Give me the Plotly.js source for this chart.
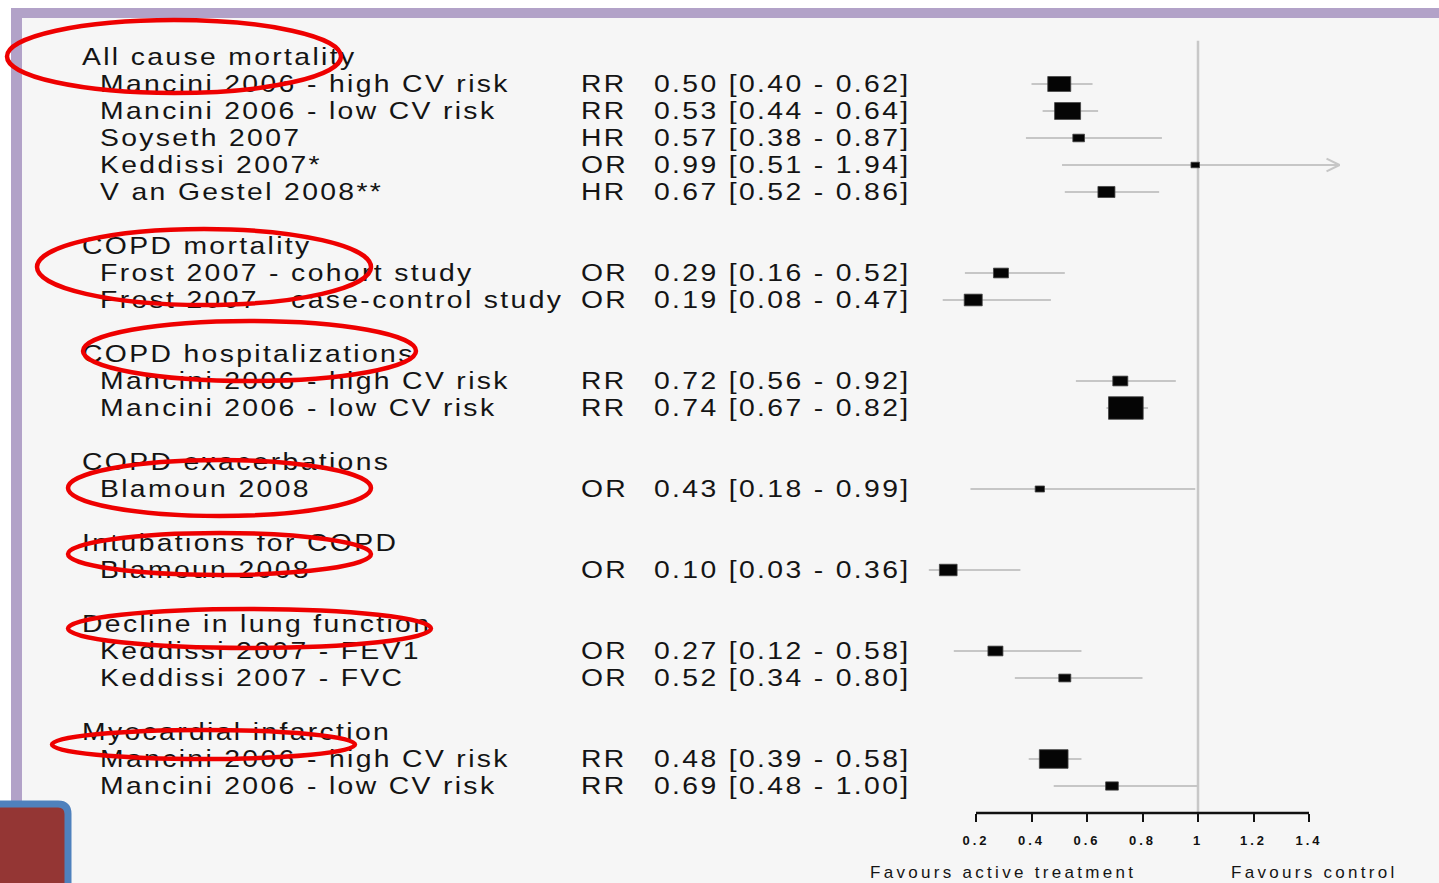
<!DOCTYPE html>
<html>
<head>
<meta charset="utf-8">
<script src="https://cdn.plot.ly/plotly-3.0.1.min.js"></script>
<style>
  html, body { margin: 0; padding: 0; background: #ffffff; }
  #chart { width: 1439px; height: 883px; }
  .textpoint text {
    letter-spacing: 2px;
    transform-box: fill-box;
    transform-origin: 0 50%;
    transform: scaleX(1.18);
  }
  .xtick text { letter-spacing: 3px; }
  .annotation-text { letter-spacing: 3.3px; }
</style>
</head>
<body>
<div id="chart"></div>
<script>
// ---------------- DATA ----------------
const groups = [
  "All cause mortality",
  "COPD mortality",
  "COPD hospitalizations",
  "COPD exacerbations",
  "Intubations for COPD",
  "Decline in lung function",
  "Myocardial infarction"
];
const studies = [
  "Mancini 2006 - high CV risk",
  "Mancini 2006 - low CV risk",
  "Soyseth 2007",
  "Keddissi 2007*",
  "V an Gestel 2008**",
  "Frost 2007 - cohort study",
  "Frost 2007 - case-control study",
  "Mancini 2006 - high CV risk",
  "Mancini 2006 - low CV risk",
  "Blamoun 2008",
  "Blamoun 2008",
  "Keddissi 2007 - FEV1",
  "Keddissi 2007 - FVC",
  "Mancini 2006 - high CV risk",
  "Mancini 2006 - low CV risk"
];
const studyGroup = [0,0,0,0,0, 1,1, 2,2, 3, 4, 5,5, 6,6];
const measure = ["RR","RR","HR","OR","HR", "OR","OR", "RR","RR", "OR", "OR", "OR","OR", "RR","RR"];
const estimate = [0.50,0.53,0.57,0.99,0.67, 0.29,0.19, 0.72,0.74, 0.43, 0.10, 0.27,0.52, 0.48,0.69];
const lower    = [0.40,0.44,0.38,0.51,0.52, 0.16,0.08, 0.56,0.67, 0.18, 0.03, 0.12,0.34, 0.39,0.48];
const upper    = [0.62,0.64,0.87,1.94,0.86, 0.52,0.47, 0.92,0.82, 0.99, 0.36, 0.58,0.80, 0.58,1.00];
// relative study weight (box size)
const weight   = [23,26,11.7,8.5,17, 15,18, 15,34.7, 9.3, 17.7, 15,12, 28.7,12.7];

const tickVals   = [0.2,0.4,0.6,0.8,1.0,1.2,1.4];
const tickLabels = ["0.2","0.4","0.6","0.8","1","1.2","1.4"];
const favourLabels = ["Favours active treatment", "Favours control"];
const clipHigh = 1.51;   // display limit; CIs beyond it get an arrow
const nullValue = 1;

// ---------------- GEOMETRY HELPERS ----------------
const W = 1439, H = 883;
const mT = 30, mB = 70;
const X0PX = 920.5, PXPERUNIT = 277.5;
const px2x = px => (px - X0PX) / PXPERUNIT;
const px2p = px => px / W;
const py2p = py => (H - mB - py) / (H - mT - mB);
const TEXT_DY = 0.07; // small baseline nudge (rows)

// build row layout: header, studies, blank
let row = 0;
const headerRows = [], studyRows = new Array(studies.length);
groups.forEach((g, gi) => {
  headerRows.push(row); row++;
  studyGroup.forEach((sg, si) => { if (sg === gi) { studyRows[si] = row; row++; } });
  row++;
});
const lastRow = row - 2; // index of last drawn row

// ---------------- TRACES ----------------
const ciX = [], ciY = [], arrX = [], arrY = [];
studies.forEach((s, i) => {
  const hi = Math.min(upper[i], clipHigh);
  ciX.push(lower[i], hi, null); ciY.push(studyRows[i], studyRows[i], null);
  if (upper[i] > clipHigh) {
    const dx = 13 / PXPERUNIT, dy = 0.24;
    arrX.push(clipHigh - dx, clipHigh, clipHigh - dx, null);
    arrY.push(studyRows[i] - dy, studyRows[i], studyRows[i] + dy, null);
  }
});

const textFont = {family: "Arial, 'Liberation Sans', sans-serif", size: 24, color: "#141414"};
const valueText = studies.map((s, i) =>
  estimate[i].toFixed(2) + " [" + lower[i].toFixed(2) + " - " + upper[i].toFixed(2) + "]");
const hy = headerRows.map(r => r + TEXT_DY);
const sy = studyRows.map(r => r + TEXT_DY);

const traces = [
  {x: ciX, y: ciY, mode: "lines", line: {color: "#c6c6c6", width: 2}, hoverinfo: "skip"},
  {x: arrX, y: arrY, mode: "lines", line: {color: "#c6c6c6", width: 2}, hoverinfo: "skip"},
  {x: groups.map(() => px2x(82)), y: hy, text: groups, mode: "text",
   textposition: "middle right", textfont: textFont, cliponaxis: false, hoverinfo: "skip"},
  {x: studies.map(() => px2x(100)), y: sy, text: studies, mode: "text",
   textposition: "middle right", textfont: textFont, cliponaxis: false, hoverinfo: "skip"},
  {x: studies.map(() => px2x(581)), y: sy, text: measure, mode: "text",
   textposition: "middle right", textfont: textFont, cliponaxis: false, hoverinfo: "skip"},
  {x: studies.map(() => px2x(654)), y: sy, text: valueText, mode: "text",
   textposition: "middle right", textfont: textFont, cliponaxis: false, hoverinfo: "skip"}
];

// ---------------- SHAPES ----------------
const shapes = [];
// light panel and purple frame
shapes.push({type: "rect", xref: "paper", yref: "paper", layer: "below",
  x0: px2p(22), x1: px2p(W + 5), y0: py2p(18), y1: py2p(H + 5),
  fillcolor: "#f6f6f6", line: {width: 0}});
shapes.push({type: "rect", xref: "paper", yref: "paper", layer: "below",
  x0: px2p(11), x1: px2p(W + 5), y0: py2p(8), y1: py2p(18),
  fillcolor: "#b2a2c8", line: {width: 0}});
shapes.push({type: "rect", xref: "paper", yref: "paper", layer: "below",
  x0: px2p(11), x1: px2p(22), y0: py2p(8), y1: py2p(H + 5),
  fillcolor: "#b2a2c8", line: {width: 0}});
// null line
shapes.push({type: "line", xref: "x", yref: "y", layer: "below",
  x0: nullValue, x1: nullValue, y0: -0.6, y1: lastRow + 1,
  line: {color: "#c8c8c8", width: 2.5}});
// axis line
shapes.push({type: "line", xref: "x", yref: "paper", layer: "above",
  x0: tickVals[0], x1: tickVals[tickVals.length - 1], y0: 0, y1: 0,
  line: {color: "#111111", width: 2.5}});
// study boxes sized by weight
studies.forEach((s, i) => {
  const w = weight[i], h = weight[i] * 0.65;
  shapes.push({type: "rect", xref: "x", yref: "y", layer: "above",
    xsizemode: "pixel", ysizemode: "pixel", xanchor: estimate[i], yanchor: studyRows[i],
    x0: -w / 2, x1: w / 2, y0: -h / 2, y1: h / 2,
    fillcolor: "#050505", line: {color: "#444444", width: 0.8}});
});
// red highlight ellipses
const ellipses = [
  [7, 341, 20, 93], [37, 371, 229, 305], [83, 416, 321, 381],
  [68, 371, 460, 516], [68, 371, 533, 575], [68, 431, 609, 648], [52, 355, 730, 759]
];
ellipses.forEach(e => shapes.push({type: "circle", xref: "paper", yref: "paper", layer: "above",
  x0: px2p(e[0]), x1: px2p(e[1]), y0: py2p(e[3]), y1: py2p(e[2]),
  line: {color: "#ee0000", width: 4.5}, fillcolor: "rgba(0,0,0,0)"}));
// bottom-left slide button
const P = (x, y) => px2p(x) + "," + py2p(y);
shapes.push({type: "path", xref: "paper", yref: "paper", layer: "above",
  path: "M" + P(-10, 804) + " L" + P(58, 804) + " Q" + P(68, 804) + " " + P(68, 814) +
        " L" + P(68, 900) + " L" + P(-10, 900) + " Z",
  fillcolor: "#943634", line: {color: "#4f81bd", width: 7}});

// ---------------- LAYOUT ----------------
const layout = {
  width: W, height: H,
  margin: {l: 0, r: 0, t: mT, b: mB, pad: 0},
  paper_bgcolor: "#ffffff",
  plot_bgcolor: "rgba(0,0,0,0)",
  showlegend: false,
  hovermode: false,
  xaxis: {
    range: [px2x(0), px2x(W)], fixedrange: true,
    tickvals: tickVals, ticktext: tickLabels,
    ticks: "outside", ticklen: 8, tickwidth: 2, tickcolor: "#111111",
    showgrid: false, zeroline: false, showline: false,
    tickfont: {family: "Arial, 'Liberation Sans', sans-serif", size: 13, color: "#111111", weight: "bold"},
    ticklabelstandoff: 7
  },
  yaxis: {range: [lastRow + 1, -1], visible: false, fixedrange: true},
  shapes: shapes,
  annotations: [
    {xref: "paper", yref: "paper", x: px2p(868), y: py2p(872), xanchor: "left", yanchor: "middle",
     text: favourLabels[0], showarrow: false,
     font: {family: "Arial, 'Liberation Sans', sans-serif", size: 17, color: "#141414"}},
    {xref: "paper", yref: "paper", x: px2p(1229), y: py2p(872), xanchor: "left", yanchor: "middle",
     text: favourLabels[1], showarrow: false,
     font: {family: "Arial, 'Liberation Sans', sans-serif", size: 17, color: "#141414"}}
  ]
};

Plotly.newPlot("chart", traces, layout, {displayModeBar: false, staticPlot: true});
</script>
</body>
</html>
